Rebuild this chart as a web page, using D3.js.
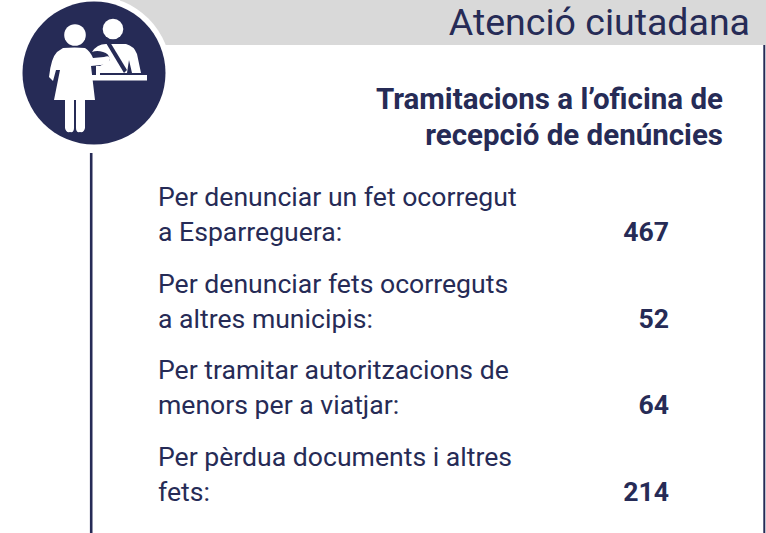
<!DOCTYPE html>
<html>
<head>
<meta charset="utf-8">
<script src="https://cdn.jsdelivr.net/npm/d3@7"></script>
<style>
    html, body { margin: 0; padding: 0; background: #fff; overflow: hidden; }
    text { font-family: Roboto, sans-serif; fill: #262b56; }
</style>
</head>
<body>
<div id="chart"></div>
<script>
const headerTitle = "Atenció ciutadana";
const subTitle = ["Tramitacions a l’oficina de", "recepció de denúncies"];
const categories = [
    ["Per denunciar un fet ocorregut", "a Esparreguera:"],
    ["Per denunciar fets ocorreguts", "a altres municipis:"],
    ["Per tramitar autoritzacions de", "menors per a viatjar:"],
    ["Per pèrdua documents i altres", "fets:"]
];
const values = [467, 52, 64, 214];

const width = 766, height = 533;
const navy = "#262b56", grey = "#d9d9d9";

const svg = d3.select("#chart").append("svg")
    .attr("width", width)
    .attr("height", height)
    .style("display", "block");

// header band, the white ring of the badge cuts into it
svg.append("rect").attr("x", 120).attr("y", 0).attr("width", width - 120).attr("height", 45).attr("fill", grey);
svg.append("circle").attr("cx", 94).attr("cy", 73).attr("r", 77).attr("fill", "#fff");
svg.append("circle").attr("cx", 94).attr("cy", 73).attr("r", 71.5).attr("fill", navy);

// side rules
svg.append("line").attr("x1", 91.2).attr("x2", 91.2).attr("y1", 153).attr("y2", height)
    .attr("stroke", navy).attr("stroke-width", 2.6);
svg.append("line").attr("x1", 764.3).attr("x2", 764.3).attr("y1", 45).attr("y2", height)
    .attr("stroke", navy).attr("stroke-width", 2);

// icon: clerk behind the counter and woman in front
const icon = svg.append("g").attr("fill", "#fff");
icon.append("circle").attr("cx", 113).attr("cy", 29).attr("r", 10.3);
icon.append("path").attr("d", "M92 52 Q97 44 106 44 L126 44 Q134 46 137 54 L141 73 L132 73 L129 60 L127 73 L100 73 L100 66 L110 60 Q109 53 103 52 Q97 50 92 52 Z");
icon.append("path").attr("d", "M106 43 L110 42 L127 70 L124 73 Z").attr("fill", navy);
icon.append("rect").attr("x", 92).attr("y", 75).attr("width", 55).attr("height", 5.5);
icon.append("rect").attr("x", 96).attr("y", 66).attr("width", 4).attr("height", 9);
icon.append("circle").attr("cx", 75).attr("cy", 35).attr("r", 10.8);
icon.append("path").attr("d", "M63 48 Q75 47 85 48 Q90 51 93 58 L104 57 Q110 55 110 59 Q109 64 101 65 L91 66 L95 100 L85 100 L85 128 Q84 133 80 132 Q76 133 76 128 L76 100 L74 100 L74 128 Q74 133 70 132 Q66 133 65 128 L65 100 L54 100 L60 70 L56 70 L53 81 L49 77 Q51 58 57 52 Z");

svg.append("text").attr("x", 750).attr("y", 35).attr("text-anchor", "end")
    .attr("font-size", 37.5).text(headerTitle);

svg.selectAll(".subtitle").data(subTitle).enter().append("text")
    .attr("class", "subtitle")
    .attr("x", 723)
    .attr("y", (d, i) => 109 + i * 35.5)
    .attr("text-anchor", "end")
    .attr("font-size", 29.5)
    .attr("font-weight", 700)
    .text(d => d);

// one row per category
const y = d3.scalePoint()
    .domain(d3.range(categories.length))
    .range([206, 466]);

const rows = svg.selectAll(".row").data(categories).enter().append("g")
    .attr("class", "row")
    .attr("transform", (d, i) => `translate(0,${y(i)})`);

rows.selectAll(".label").data(d => d).enter().append("text")
    .attr("class", "label")
    .attr("x", 158)
    .attr("y", (d, i) => i * 35)
    .attr("font-size", 26.6)
    .text(d => d);

rows.append("text")
    .attr("x", 669)
    .attr("y", 35)
    .attr("text-anchor", "end")
    .attr("font-size", 26.6)
    .attr("font-weight", 700)
    .text((d, i) => values[i]);
</script>
</body>
</html>
